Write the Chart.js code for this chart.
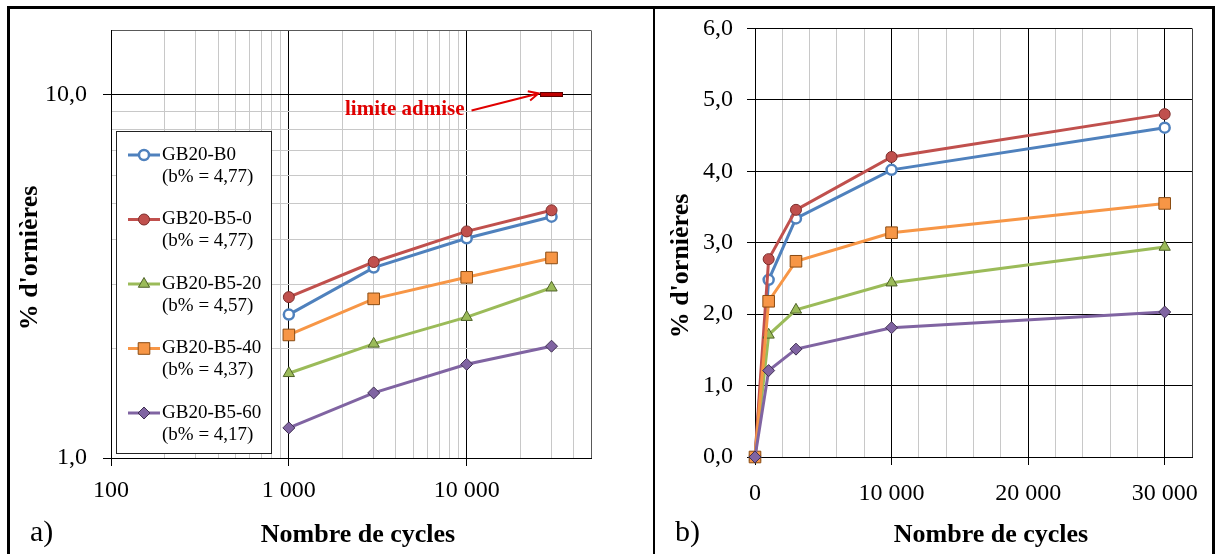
<!DOCTYPE html>
<html>
<head>
<meta charset="utf-8">
<script src="https://cdn.jsdelivr.net/npm/chart.js@4.4.1/dist/chart.umd.min.js"></script>
<style>
  html, body { margin: 0; padding: 0; background: #fff; overflow: hidden; }
  #page { position: relative; width: 1216px; height: 554px; overflow: hidden; }
  #frame { position: absolute; left: 7px; top: 6px; width: 1208px; height: 620px; border: 3px solid #000; box-sizing: border-box; }
  #divider { position: absolute; left: 653px; top: 6px; width: 2px; height: 620px; background: #000; }
  canvas { position: absolute; top: 0; }
  #chartA { left: 0; }
  #chartB { left: 655px; }
</style>
</head>
<body>
<div id="page">
  <div id="frame"></div>
  <div id="divider"></div>
  <canvas id="chartA" width="653" height="554"></canvas>
  <canvas id="chartB" width="561" height="554"></canvas>
</div>
<script>
// % d'ornières selon le nombre de cycles
var cycles = [0, 1000, 3000, 10000, 30000];
var gb20B0    = [0, 2.48, 3.34, 4.02, 4.61];
var gb20B5_0  = [0, 2.77, 3.46, 4.20, 4.80];
var gb20B5_20 = [0, 1.71, 2.06, 2.44, 2.94];
var gb20B5_40 = [0, 2.18, 2.74, 3.14, 3.55];
var gb20B5_60 = [0, 1.21, 1.51, 1.81, 2.03];
var seriesNames = ['GB20-B0', 'GB20-B5-0', 'GB20-B5-20', 'GB20-B5-40', 'GB20-B5-60'];
var binderContent = ['4,77', '4,77', '4,57', '4,37', '4,17'];

// limite admise
var limitCycles = 30000;
var limitValue = 10;

// graduations
var logXLabels = [100, 1000, 10000];
var logYLabels = [1, 10];
var linXLabels = [0, 10000, 20000, 30000];
var linYLabels = [0, 1, 2, 3, 4, 5, 6];

var serif = '"Liberation Serif", "Times New Roman", serif';
var minorGray = '#c8c8c8';
var edgeGray = '#595959';

var styles = [
  { color: '#4f81bd', point: 'circle',   radius: 5,   fill: '#ffffff', edge: '#4f81bd', edgeWidth: 2.5 },
  { color: '#c0504d', point: 'circle',   radius: 5.5, fill: '#c0504d', edge: '#7d2e2c', edgeWidth: 1 },
  { color: '#9bbb59', point: 'triangle', radius: 6.5, fill: '#9bbb59', edge: '#4f6228', edgeWidth: 1 },
  { color: '#f79646', point: 'rect',     radius: 8.2, fill: '#f79646', edge: '#8a4b12', edgeWidth: 1 },
  { color: '#8064a2', point: 'rectRot',  radius: 6,   fill: '#8064a2', edge: '#403152', edgeWidth: 1 }
];

function fmtThousands(v) {
  return String(v).replace(/\B(?=(\d{3})+(?!\d))/g, ' ');
}

function logGrid(min, max) {
  var out = [];
  for (var p = Math.pow(10, Math.floor(Math.log10(min))); p <= max; p *= 10) {
    for (var k = 1; k < 10; k++) {
      var v = k * p;
      if (v >= min && v <= max) out.push(v);
    }
  }
  if (out[out.length - 1] !== max) out.push(max);
  return out;
}

function buildDatasets(logMode) {
  var values = [gb20B0, gb20B5_0, gb20B5_20, gb20B5_40, gb20B5_60];
  return values.map(function (vals, i) {
    var s = styles[i];
    var pts = [];
    cycles.forEach(function (c, k) {
      if (logMode && (c <= 0 || vals[k] <= 0)) return;
      pts.push({ x: c, y: vals[k] });
    });
    return {
      label: seriesNames[i],
      data: pts,
      borderColor: s.color,
      borderWidth: 3,
      pointStyle: s.point,
      pointRadius: s.radius,
      pointHoverRadius: s.radius,
      pointBackgroundColor: s.fill,
      pointBorderColor: s.edge,
      pointBorderWidth: s.edgeWidth,
      tension: 0,
      clip: false,
      order: values.length - i + 1
    };
  });
}

// plugin : textes libres (titres d'axes, repères a) b))
function makeCaptions(items) {
  return {
    id: 'captions',
    afterDraw: function (chart) {
      var ctx = chart.ctx;
      items.forEach(function (it) {
        ctx.save();
        ctx.font = it.font;
        ctx.fillStyle = it.color || '#000';
        ctx.textAlign = it.align || 'center';
        ctx.textBaseline = 'middle';
        ctx.translate(it.x, it.y);
        if (it.rotate) ctx.rotate(it.rotate);
        ctx.fillText(it.text, 0, 0);
        ctx.restore();
      });
    }
  };
}

// plugin : légende encadrée dans la zone du graphe
function makeBoxLegend(box) {
  return {
    id: 'boxLegend',
    afterDraw: function (chart) {
      var ctx = chart.ctx;
      ctx.save();
      ctx.fillStyle = '#fff';
      ctx.fillRect(box.x, box.y, box.w, box.h);
      ctx.strokeStyle = '#222';
      ctx.lineWidth = 1;
      ctx.strokeRect(box.x + 0.5, box.y + 0.5, box.w, box.h);
      seriesNames.forEach(function (name, i) {
        var s = styles[i];
        var y = box.firstY + i * box.step;
        ctx.strokeStyle = s.color;
        ctx.lineWidth = 3;
        ctx.beginPath();
        ctx.moveTo(box.lineX0, y);
        ctx.lineTo(box.lineX1, y);
        ctx.stroke();
        ctx.fillStyle = s.fill;
        ctx.strokeStyle = s.edge;
        ctx.lineWidth = s.edgeWidth;
        Chart.helpers.drawPoint(ctx, { pointStyle: s.point, radius: s.radius, rotation: 0, borderWidth: s.edgeWidth },
          (box.lineX0 + box.lineX1) / 2, y);
        ctx.fillStyle = '#000';
        ctx.font = '19px ' + serif;
        ctx.textAlign = 'left';
        ctx.textBaseline = 'middle';
        ctx.fillText(name, box.textX, y);
        ctx.fillText('(b% = ' + binderContent[i] + ')', box.textX, y + box.lineGap);
      });
      ctx.restore();
    }
  };
}

// plugin : flèche "limite admise"
var limitNote = {
  id: 'limitNote',
  afterDraw: function (chart) {
    var ctx = chart.ctx;
    var px = chart.scales.x.getPixelForValue(limitCycles);
    var py = chart.scales.y.getPixelForValue(limitValue);
    ctx.save();
    ctx.fillStyle = '#e00000';
    ctx.strokeStyle = '#e00000';
    ctx.font = 'bold 21px ' + serif;
    ctx.textAlign = 'right';
    ctx.textBaseline = 'middle';
    ctx.fillText('limite admise', px - 87, py + 15);
    var x0 = px - 80, y0 = py + 16, x1 = px - 13, y1 = py - 1;
    var a = Math.atan2(y1 - y0, x1 - x0);
    ctx.lineWidth = 2;
    ctx.beginPath();
    ctx.moveTo(x0, y0);
    ctx.lineTo(x1, y1);
    ctx.moveTo(x1 - 11 * Math.cos(a - 0.45), y1 - 11 * Math.sin(a - 0.45));
    ctx.lineTo(x1, y1);
    ctx.lineTo(x1 - 11 * Math.cos(a + 0.45), y1 - 11 * Math.sin(a + 0.45));
    ctx.stroke();
    ctx.restore();
  }
};

// repère de la limite : petit trait rouge
var limitMark = document.createElement('canvas');
limitMark.width = 23;
limitMark.height = 5;
(function () {
  var c = limitMark.getContext('2d');
  c.fillStyle = '#c00000';
  c.fillRect(0, 0, 23, 5);
  c.strokeStyle = '#5a0000';
  c.lineWidth = 1;
  c.strokeRect(0.5, 0.5, 22, 4);
})();

var tickFont = { family: serif, size: 24 };

// a) échelle logarithmique
var dsA = buildDatasets(true);
dsA.push({
  label: 'limite admise',
  data: [{ x: limitCycles, y: limitValue }],
  showLine: false,
  pointStyle: limitMark,
  pointRadius: 11,
  clip: false,
  order: 0
});

new Chart(document.getElementById('chartA'), {
  type: 'line',
  data: { datasets: dsA },
  options: {
    responsive: false,
    animation: false,
    layout: { padding: { left: 0, right: 62, top: 28, bottom: 0 } },
    plugins: { legend: { display: false }, tooltip: { enabled: false } },
    scales: {
      x: {
        type: 'logarithmic',
        min: 100,
        max: 50000,
        afterBuildTicks: function (scale) {
          scale.ticks = logGrid(100, 50000).map(function (v) { return { value: v }; });
        },
        afterFit: function (scale) { scale.height = 96; },
        ticks: {
          autoSkip: false, maxRotation: 0, minRotation: 0, padding: 10,
          color: '#000', font: tickFont,
          callback: function (v) { return logXLabels.indexOf(v) >= 0 ? fmtThousands(v) : ''; }
        },
        grid: {
          tickLength: 8,
          color: function (c) {
            var v = c.tick.value;
            if (v >= 50000) return edgeGray;
            return logXLabels.indexOf(v) >= 0 ? '#000' : minorGray;
          },
          tickColor: function (c) { return logXLabels.indexOf(c.tick.value) >= 0 ? '#000' : 'rgba(0,0,0,0)'; }
        },
        border: { color: '#000' }
      },
      y: {
        type: 'logarithmic',
        min: 1,
        max: 15,
        afterBuildTicks: function (scale) {
          scale.ticks = logGrid(1, 15).map(function (v) { return { value: v }; });
        },
        afterFit: function (scale) { scale.width = 111; },
        ticks: {
          autoSkip: false, padding: 16, color: '#000', font: tickFont,
          callback: function (v) { return logYLabels.indexOf(v) >= 0 ? v.toFixed(1).replace('.', ',') : ''; }
        },
        grid: {
          tickLength: 8,
          color: function (c) {
            var v = c.tick.value;
            if (v >= 15) return edgeGray;
            return logYLabels.indexOf(v) >= 0 ? '#000' : minorGray;
          },
          tickColor: function (c) { return logYLabels.indexOf(c.tick.value) >= 0 ? '#000' : 'rgba(0,0,0,0)'; }
        },
        border: { color: '#000' }
      }
    }
  },
  plugins: [
    makeBoxLegend({ x: 116, y: 131, w: 155, h: 322, firstY: 155, step: 64.5, lineGap: 22,
      lineX0: 128, lineX1: 160, textX: 162 }),
    limitNote,
    makeCaptions([
      { text: "% d'ornières", x: 30, y: 258, font: 'bold 26px ' + serif, rotate: -Math.PI / 2 },
      { text: 'Nombre de cycles', x: 358, y: 535, font: 'bold 26px ' + serif },
      { text: 'a)', x: 30, y: 533, align: 'left', font: '30px ' + serif }
    ])
  ]
});

// b) échelle linéaire
new Chart(document.getElementById('chartB'), {
  type: 'line',
  data: { datasets: buildDatasets(false) },
  options: {
    responsive: false,
    animation: false,
    layout: { padding: { left: 0, right: 24, top: 27, bottom: 0 } },
    plugins: { legend: { display: false }, tooltip: { enabled: false } },
    scales: {
      x: {
        type: 'linear',
        min: 0,
        max: 32000,
        afterFit: function (scale) { scale.height = 97; },
        ticks: {
          stepSize: 2000, autoSkip: false, maxRotation: 0, minRotation: 0, padding: 14,
          color: '#000', font: tickFont,
          callback: function (v) { return linXLabels.indexOf(v) >= 0 ? fmtThousands(v) : ''; }
        },
        grid: {
          tickLength: 8,
          color: function (c) {
            var v = c.tick.value;
            if (v >= 32000) return '#404040';
            return linXLabels.indexOf(v) >= 0 ? '#000' : minorGray;
          },
          tickColor: function (c) { return linXLabels.indexOf(c.tick.value) >= 0 ? '#000' : 'rgba(0,0,0,0)'; }
        },
        border: { color: '#000' }
      },
      y: {
        min: 0,
        max: 6,
        afterFit: function (scale) { scale.width = 100; },
        ticks: {
          stepSize: 1, padding: 14, color: '#000', font: tickFont,
          callback: function (v) { return linYLabels.indexOf(v) >= 0 ? v.toFixed(1).replace('.', ',') : ''; }
        },
        grid: { tickLength: 8, color: '#000', tickColor: '#000' },
        border: { color: '#000' }
      }
    }
  },
  plugins: [
    makeCaptions([
      { text: "% d'ornières", x: 26, y: 266, font: 'bold 26px ' + serif, rotate: -Math.PI / 2 },
      { text: 'Nombre de cycles', x: 336, y: 535, font: 'bold 26px ' + serif },
      { text: 'b)', x: 20, y: 533, align: 'left', font: '30px ' + serif }
    ])
  ]
});
</script>
</body>
</html>
